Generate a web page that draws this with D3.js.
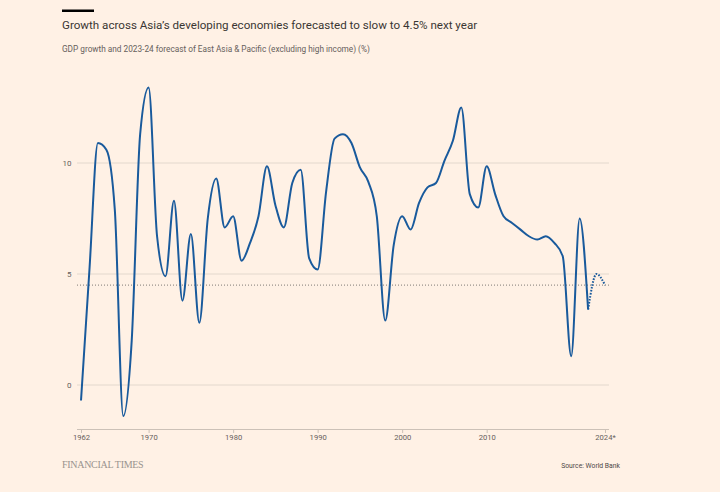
<!DOCTYPE html>
<html>
<head>
<meta charset="utf-8">
<script src="https://cdn.jsdelivr.net/npm/d3@7/dist/d3.min.js"></script>
<style>
  html, body { margin: 0; padding: 0; background: #fff1e5; }
  svg { display: block; }
</style>
</head>
<body>
<svg id="chart" width="720" height="492"></svg>
<script>
// ---- Data ----
const years = [1962,1963,1964,1965,1966,1967,1968,1969,1970,1971,1972,1973,1974,1975,1976,1977,1978,1979,1980,1981,1982,1983,1984,1985,1986,1987,1988,1989,1990,1991,1992,1993,1994,1995,1996,1997,1998,1999,2000,2001,2002,2003,2004,2005,2006,2007,2008,2009,2010,2011,2012,2013,2014,2015,2016,2017,2018,2019,2020,2021,2022];
const growth = [-0.7,5.2,10.9,10.6,7.9,-1.4,2.0,11.3,13.4,6.7,4.9,8.3,3.8,6.8,2.8,7.5,9.3,7.1,7.6,5.6,6.4,7.6,9.85,8.1,7.1,9.1,9.7,5.7,5.2,8.7,11.1,11.3,10.9,9.8,9.15,7.6,2.9,6.3,7.6,7.0,8.2,8.9,9.1,10.1,11.0,12.5,8.6,8.0,9.85,8.6,7.6,7.3,7.0,6.7,6.55,6.7,6.4,5.8,1.3,7.5,3.4];
const forecastYears = [2022, 2023, 2024];
const forecast = [3.4, 5.0, 4.5];
const yTicks = [0, 5, 10];
const xTicks = [1962, 1970, 1980, 1990, 2000, 2010, 2024];
const xTickLabels = ["1962", "1970", "1980", "1990", "2000", "2010", "2024*"];
const referenceLevel = 4.5;

const title = "Growth across Asia\u2019s developing economies forecasted to slow to 4.5% next year";
const subtitle = "GDP growth and 2023-24 forecast of East Asia & Pacific (excluding high income) (%)";
const source = "Source: World Bank";
const brand = "FINANCIAL TIMES";

// ---- Layout ----
const svg = d3.select("#chart");
const font = "Roboto, 'Noto Sans', sans-serif";
const x = d3.scaleLinear().domain([1962, 2024]).range([81, 605]);
const y = d3.scaleLinear().domain([0, 10]).range([385, 163]);
const gridX0 = 77, gridX1 = 609, axisY = 429;

svg.append("rect").attr("width", 720).attr("height", 492).attr("fill", "#fff1e5");

// header
svg.append("rect").attr("x", 62).attr("y", 9.5).attr("width", 32).attr("height", 2.5).attr("fill", "#000");
svg.append("text").attr("x", 62).attr("y", 28.5)
  .attr("font-family", font).attr("font-size", 11.6).attr("fill", "#3a3633").text(title);
svg.append("text").attr("x", 62).attr("y", 52)
  .attr("font-family", font).attr("font-size", 8.25).attr("fill", "#66605c").text(subtitle);

// gridlines
svg.append("g").selectAll("line").data(yTicks).join("line")
  .attr("x1", gridX0).attr("x2", gridX1)
  .attr("y1", d => y(d)).attr("y2", d => y(d))
  .attr("stroke", "#e3d8cd").attr("stroke-width", 1);

svg.append("g").selectAll("text").data(yTicks).join("text")
  .attr("x", 71.5).attr("y", d => y(d) + 3)
  .attr("text-anchor", "end")
  .attr("font-family", font).attr("font-size", 8).attr("fill", "#66605c")
  .text(d => d);

// reference dotted line
svg.append("line")
  .attr("x1", gridX0).attr("x2", gridX1)
  .attr("y1", y(referenceLevel)).attr("y2", y(referenceLevel))
  .attr("stroke", "#7f7a75").attr("stroke-width", 1).attr("stroke-dasharray", "1,2");

// x axis
const xAxis = d3.axisBottom(x).tickValues(xTicks).tickSize(4)
  .tickFormat((d, i) => xTickLabels[i]);
const gx = svg.append("g").attr("transform", `translate(0,${axisY})`).call(xAxis);
gx.select(".domain").remove();
gx.append("line").attr("x1", gridX0).attr("x2", gridX1).attr("y1", 0.5).attr("y2", 0.5)
  .attr("stroke", "#ccc1b7").attr("stroke-width", 1);
gx.selectAll(".tick line").attr("stroke", "#ccc1b7");
gx.selectAll(".tick text").attr("font-family", font).attr("font-size", 7.6)
  .attr("fill", "#66605c").attr("dy", "0.55em");

// lines
const line = d3.line().x(d => x(d[0])).y(d => y(d[1])).curve(d3.curveMonotoneX);
svg.append("path").datum(years.map((yr, i) => [yr, growth[i]]))
  .attr("d", line).attr("fill", "none").attr("stroke", "#195a9c")
  .attr("stroke-width", 2).attr("stroke-linejoin", "round");
svg.append("path").datum(forecastYears.map((yr, i) => [yr, forecast[i]]))
  .attr("d", line).attr("fill", "none").attr("stroke", "#195a9c")
  .attr("stroke-width", 2).attr("stroke-dasharray", "1.6,1.4");

// footer
svg.append("text").attr("x", 62).attr("y", 468)
  .attr("font-family", "'Liberation Serif', 'DejaVu Serif', serif").attr("font-size", 10)
  .attr("fill", "#99938e").attr("letter-spacing", -0.3).text(brand);
svg.append("text").attr("x", 620).attr("y", 467.5).attr("text-anchor", "end")
  .attr("font-family", font).attr("font-size", 6.8).attr("fill", "#4d4845").text(source);
</script>
</body>
</html>
